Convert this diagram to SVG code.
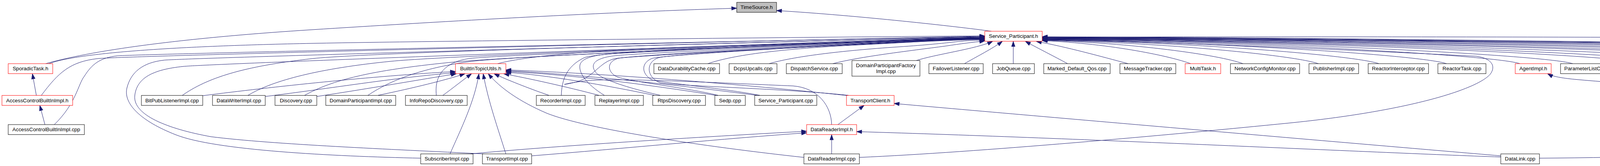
<svg xmlns="http://www.w3.org/2000/svg" width="6431" height="425" viewBox="0 0 6431 425">
<style>
.node rect{fill:#ffffff;stroke:#000000;stroke-width:1}
.node.red rect{stroke:#ff0000}
.node.gray rect{fill:#bfbfbf}
.node text{font-family:"Liberation Sans",Arial,Helvetica,sans-serif;font-size:13.33px;fill:#000000;text-anchor:middle}
.e{fill:none;stroke:#191970;stroke-width:1;marker-end:url(#ah)}
</style>
<defs>
<marker id="ah" viewBox="0 0 13 9" refX="13" refY="4.5" markerWidth="13" markerHeight="9" markerUnits="userSpaceOnUse" orient="auto" overflow="visible">
<path d="M0,0 L13,4.5 L0,9 Z" fill="#191970" stroke="#191970" stroke-width="1"/>
</marker>
</defs>
<rect x="0" y="0" width="6431" height="425" fill="#ffffff"/>
<g id="edges">
<path class="e" d="M117,163 C250,125 500,95 800,76 C1100,57 1500,33 1886,21"/>
<path class="e" d="M2538,80 C2450,68 2200,40 1988,27"/>
<path class="e" d="M93,244 L83,189"/>
<path class="e" d="M115,319 L102,270"/>
<path class="e" d="M125,163 C200,135 450,118 800,111 S2420,92 2521,92"/>
<path class="e" d="M106,244 C150,185 180,158 250,150 S2420,93 2521,93"/>
<path class="e" d="M139,319 C195,265 200,215 216,195 C235,165 255,148 300,143 S2420,94 2521,94"/>
<path class="e" d="M1077,405 C850,400 550,385 450,345 C360,310 315,265 325,225 C335,185 365,160 420,154 S2420,95 2521,95"/>
<path class="e" d="M1237,394 C1000,382 700,370 540,350 C430,330 340,295 345,245 C350,200 390,178 470,170 S2420,96 2521,96"/>
<path class="e" d="M467,244 C530,200 620,170 800,150 S2420,96 2521,96"/>
<path class="e" d="M635,244 C700,205 820,175 1000,157 S2420,97 2521,97"/>
<path class="e" d="M780,244 C850,205 950,180 1150,160 S2420,98 2521,98"/>
<path class="e" d="M942,244 C1000,205 1080,175 1200,158 S2420,99 2521,99"/>
<path class="e" d="M1117,244 C1112,195 1135,160 1200,150 S2420,98 2521,98"/>
<path class="e" d="M1274,163 C1330,148 1450,135 1600,128 S2420,97 2521,97"/>
<path class="e" d="M1437,244 C1438,205 1450,170 1495,148 S2420,97 2521,97"/>
<path class="e" d="M1547,244 C1500,215 1480,185 1485,165 C1490,150 1515,142 1560,138 S2420,98 2521,98"/>
<path class="e" d="M1690,244 C1620,228 1540,205 1525,185 C1510,165 1520,148 1580,142 S2420,99 2521,99"/>
<path class="e" d="M1838,244 C1760,225 1620,210 1580,197 C1555,185 1552,160 1580,150 S2420,99 2521,99"/>
<path class="e" d="M1945,244 C1850,226 1720,215 1670,205 C1642,190 1640,162 1668,150 S2420,100 2521,100"/>
<path class="e" d="M2172,244 C2000,226 1760,222 1690,212 C1655,198 1652,160 1685,148 S2420,100 2521,100"/>
<path class="e" d="M2129,319 C2128,272 2095,225 2030,220 C1880,214 1580,198 1500,207 C1440,214 1425,222 1475,210 C1520,198 1535,158 1575,150 S2420,101 2521,101"/>
<path class="e" d="M1812,163 C1880,140 2000,125 2200,115 S2420,101 2521,101"/>
<path class="e" d="M1969,163 C2030,145 2150,130 2300,120 S2450,103 2521,103"/>
<path class="e" d="M2132,163 C2200,145 2330,130 2420,118 C2460,112 2490,108 2521,105"/>
<path class="e" d="M2346,155 C2390,140 2500,125 2541,106"/>
<path class="e" d="M2469,163 C2500,145 2540,125 2566,106"/>
<path class="e" d="M2594,163 L2594,106"/>
<path class="e" d="M2733,163 C2700,145 2660,125 2625,106"/>
<path class="e" d="M2888,163 C2820,145 2730,120 2653,106"/>
<path class="e" d="M3048,163 C3000,145 2850,112 2668,104"/>
<path class="e" d="M3182,163 C3120,140 2900,110 2668,103"/>
<path class="e" d="M3375,163 C3315,142 2986,109 2668,103"/>
<path class="e" d="M3530,163 C3470,142 3056,108 2668,102"/>
<path class="e" d="M3703,163 C3643,142 3134,108 2668,102"/>
<path class="e" d="M3891,163 C3831,142 3218,107 2668,101"/>
<path class="e" d="M4026,163 C3966,142 3279,106 2668,100"/>
<path class="e" d="M4216,163 C4156,142 3365,106 2668,100"/>
<path class="e" d="M4335,163 C4275,142 3418,105 2668,99"/>
<path class="e" d="M4508,163 C4448,142 3496,105 2668,99"/>
<path class="e" d="M4689,163 C4629,142 3577,104 2668,98"/>
<path class="e" d="M4831,163 C4771,142 3641,104 2668,98"/>
<path class="e" d="M5023,163 C4963,142 3728,103 2668,97"/>
<path class="e" d="M5222,163 C5162,142 3817,103 2668,97"/>
<path class="e" d="M5444,163 C5384,142 3917,102 2668,96"/>
<path class="e" d="M5680,163 C5620,142 4023,102 2668,96"/>
<path class="e" d="M5864,163 C5804,142 4106,101 2668,95"/>
<path class="e" d="M6066,163 C6006,142 4197,101 2668,95"/>
<path class="e" d="M6265,163 C6205,142 4287,100 2668,94"/>
<path class="e" d="M2200,403 C2500,390 3000,345 3300,315 C3600,285 3780,230 3815,190 C3830,170 3820,150 3780,144 C3400,125 2900,104 2668,101"/>
<path class="e" d="M5208,255 C5600,250 6100,235 6330,210 C6395,200 6410,170 6395,155 C6375,142 6300,138 6200,135 C5200,115 3500,102 2668,99"/>
<path class="e" d="M3941,405 C4400,402 5200,370 5650,343 C6000,320 6300,260 6380,215 C6420,190 6430,165 6410,154 C6380,145 6300,140 6200,132 C5900,115 5300,102 4840,98 C4000,94 3000,93 2668,96"/>
<path class="e" d="M519,245 C700,222 950,195 1166,183"/>
<path class="e" d="M679,247 C850,226 1000,200 1166,186"/>
<path class="e" d="M811,247 C950,226 1080,203 1168,189"/>
<path class="e" d="M968,244 C1060,225 1140,205 1190,189"/>
<path class="e" d="M1134,244 C1160,225 1185,205 1207,189"/>
<path class="e" d="M1152,394 C1180,330 1215,260 1226,189"/>
<path class="e" d="M1295,394 C1275,330 1250,260 1237,189"/>
<path class="e" d="M2058,403 C1800,375 1500,330 1400,290 C1330,260 1280,225 1250,189"/>
<path class="e" d="M1405,244 C1350,225 1300,205 1265,189"/>
<path class="e" d="M1533,244 C1450,222 1350,200 1290,189"/>
<path class="e" d="M1675,244 C1550,218 1400,192 1295,185"/>
<path class="e" d="M1838,245 C1650,215 1450,190 1295,183"/>
<path class="e" d="M1945,245 C1700,213 1450,188 1295,181"/>
<path class="e" d="M2172,245 C1850,210 1500,186 1295,179"/>
<path class="e" d="M2145,319 L2212,270"/>
<path class="e" d="M2129,394 L2129,345"/>
<path class="e" d="M1205,394 C1400,375 1800,350 2065,336"/>
<path class="e" d="M1361,399 C1600,380 1850,355 2065,340"/>
<path class="e" d="M3842,402 C3500,390 2800,355 2193,337"/>
<path class="e" d="M3842,399 C3500,370 2800,310 2289,265"/>
<path class="e" d="M5101,254 C4900,252 4300,228 4030,203 C4000,200 3975,196 3962,189"/>
</g>
<g id="n_TimeSource_h" class="node gray"><rect x="1886" y="6" width="102" height="25.6"/><text x="1937" y="23.4">TimeSource.h</text></g>
<g id="n_Service_Participant_h" class="node red"><rect x="2521" y="80" width="147" height="25.6"/><text x="2594.5" y="97.4">Service_Participant.h</text></g>
<g id="n_SporadicTask_h" class="node red"><rect x="21" y="163" width="114" height="25.6"/><text x="78" y="180.4">SporadicTask.h</text></g>
<g id="n_BuiltInTopicUtils_h" class="node red"><rect x="1166" y="163" width="129" height="25.6"/><text x="1230.5" y="180.4">BuiltInTopicUtils.h</text></g>
<g id="n_DataDurabilityCache_cpp" class="node"><rect x="1674" y="163" width="168" height="25.6"/><text x="1758" y="180.4">DataDurabilityCache.cpp</text></g>
<g id="n_DcpsUpcalls_cpp" class="node"><rect x="1866.5" y="163" width="122.5" height="25.6"/><text x="1927.75" y="180.4">DcpsUpcalls.cpp</text></g>
<g id="n_DispatchService_cpp" class="node"><rect x="2013" y="163" width="143" height="25.6"/><text x="2084.5" y="180.4">DispatchService.cpp</text></g>
<g id="n_DomainParticipantFactoryImpl_cpp" class="node"><rect x="2181" y="155" width="174" height="40"/><text x="2268" y="171.5">DomainParticipantFactory</text><text x="2268" y="186.5">Impl.cpp</text></g>
<g id="n_FailoverListener_cpp" class="node"><rect x="2378" y="163" width="139" height="25.6"/><text x="2447.5" y="180.4">FailoverListener.cpp</text></g>
<g id="n_JobQueue_cpp" class="node"><rect x="2541" y="163" width="107" height="25.6"/><text x="2594.5" y="180.4">JobQueue.cpp</text></g>
<g id="n_Marked_Default_Qos_cpp" class="node"><rect x="2672" y="163" width="170" height="25.6"/><text x="2757" y="180.4">Marked_Default_Qos.cpp</text></g>
<g id="n_MessageTracker_cpp" class="node"><rect x="2867" y="163" width="143" height="25.6"/><text x="2938.5" y="180.4">MessageTracker.cpp</text></g>
<g id="n_MultiTask_h" class="node red"><rect x="3034" y="163" width="91" height="25.6"/><text x="3079.5" y="180.4">MultiTask.h</text></g>
<g id="n_NetworkConfigMonitor_cpp" class="node"><rect x="3150" y="163" width="177" height="25.6"/><text x="3238.5" y="180.4">NetworkConfigMonitor.cpp</text></g>
<g id="n_PublisherImpl_cpp" class="node"><rect x="3351" y="163" width="127" height="25.6"/><text x="3414.5" y="180.4">PublisherImpl.cpp</text></g>
<g id="n_ReactorInterceptor_cpp" class="node"><rect x="3502.5" y="163" width="154.5" height="25.6"/><text x="3579.75" y="180.4">ReactorInterceptor.cpp</text></g>
<g id="n_ReactorTask_cpp" class="node"><rect x="3681" y="163" width="123" height="25.6"/><text x="3742.5" y="180.4">ReactorTask.cpp</text></g>
<g id="n_AgentImpl_h" class="node red"><rect x="3879" y="163" width="92" height="25.6"/><text x="3925" y="180.4">AgentImpl.h</text></g>
<g id="n_ParameterListConverter_cpp" class="node"><rect x="3995" y="163" width="185" height="25.6"/><text x="4087.5" y="180.4">ParameterListConverter.cpp</text></g>
<g id="n_Spdp_cpp" class="node"><rect x="4205" y="163" width="78" height="25.6"/><text x="4244" y="180.4">Spdp.cpp</text></g>
<g id="n_SecurityRegistry_cpp" class="node"><rect x="4306" y="163" width="144" height="25.6"/><text x="4378" y="180.4">SecurityRegistry.cpp</text></g>
<g id="n_TopicDescriptionImpl_cpp" class="node"><rect x="4474" y="163" width="171" height="25.6"/><text x="4559.5" y="180.4">TopicDescriptionImpl.cpp</text></g>
<g id="n_TopicImpl_cpp" class="node"><rect x="4669" y="163" width="104" height="25.6"/><text x="4721" y="180.4">TopicImpl.cpp</text></g>
<g id="n_DirectPriorityMapper_cpp" class="node"><rect x="4797.5" y="163" width="167" height="25.6"/><text x="4881" y="180.4">DirectPriorityMapper.cpp</text></g>
<g id="n_PerConnectionSynch_cpp" class="node"><rect x="4989" y="163" width="171" height="25.6"/><text x="5074.5" y="180.4">PerConnectionSynch.cpp</text></g>
<g id="n_ScheduleOutputHandler_cpp" class="node"><rect x="5184.5" y="163" width="185.5" height="25.6"/><text x="5277.25" y="180.4">ScheduleOutputHandler.cpp</text></g>
<g id="n_ThreadPerConnectionSendTask_cpp" class="node"><rect x="5394" y="163" width="232" height="25.6"/><text x="5510" y="180.4">ThreadPerConnectionSendTask.cpp</text></g>
<g id="n_TransportRegistry_cpp" class="node"><rect x="5651" y="163" width="151" height="25.6"/><text x="5726.5" y="180.4">TransportRegistry.cpp</text></g>
<g id="n_TransportSendListener_cpp" class="node"><rect x="5826" y="163" width="179" height="25.6"/><text x="5915.5" y="180.4">TransportSendListener.cpp</text></g>
<g id="n_TransportSendStrategy_cpp" class="node"><rect x="6029" y="163" width="181" height="25.6"/><text x="6119.5" y="180.4">TransportSendStrategy.cpp</text></g>
<g id="n_QueueTaskBase_T_h" class="node red"><rect x="6235" y="163" width="146" height="25.6"/><text x="6308" y="180.4">QueueTaskBase_T.h</text></g>
<g id="n_AccessControlBuiltInImpl_h" class="node red"><rect x="5" y="244.3" width="181" height="25.6"/><text x="95.5" y="261.7">AccessControlBuiltInImpl.h</text></g>
<g id="n_BitPubListenerImpl_cpp" class="node"><rect x="362" y="244.3" width="157" height="25.6"/><text x="440.5" y="261.7">BitPubListenerImpl.cpp</text></g>
<g id="n_DataWriterImpl_cpp" class="node"><rect x="544" y="244.3" width="135" height="25.6"/><text x="611.5" y="261.7">DataWriterImpl.cpp</text></g>
<g id="n_Discovery_cpp" class="node"><rect x="704" y="244.3" width="107" height="25.6"/><text x="757.5" y="261.7">Discovery.cpp</text></g>
<g id="n_DomainParticipantImpl_cpp" class="node"><rect x="834" y="244.3" width="179" height="25.6"/><text x="923.5" y="261.7">DomainParticipantImpl.cpp</text></g>
<g id="n_InfoRepoDiscovery_cpp" class="node"><rect x="1038" y="244.3" width="158" height="25.6"/><text x="1117" y="261.7">InfoRepoDiscovery.cpp</text></g>
<g id="n_RecorderImpl_cpp" class="node"><rect x="1373" y="244.3" width="125" height="25.6"/><text x="1435.5" y="261.7">RecorderImpl.cpp</text></g>
<g id="n_ReplayerImpl_cpp" class="node"><rect x="1523" y="244.3" width="124" height="25.6"/><text x="1585" y="261.7">ReplayerImpl.cpp</text></g>
<g id="n_RtpsDiscovery_cpp" class="node"><rect x="1671" y="244.3" width="135" height="25.6"/><text x="1738.5" y="261.7">RtpsDiscovery.cpp</text></g>
<g id="n_Sedp_cpp" class="node"><rect x="1830" y="244.3" width="78" height="25.6"/><text x="1869" y="261.7">Sedp.cpp</text></g>
<g id="n_Service_Participant_cpp" class="node"><rect x="1932" y="244.3" width="159" height="25.6"/><text x="2011.5" y="261.7">Service_Participant.cpp</text></g>
<g id="n_TransportClient_h" class="node red"><rect x="2167" y="244.3" width="122" height="25.6"/><text x="2228" y="261.7">TransportClient.h</text></g>
<g id="n_AgentImpl_cpp" class="node"><rect x="5101" y="244.3" width="107" height="25.6"/><text x="5154.5" y="261.7">AgentImpl.cpp</text></g>
<g id="n_AccessControlBuiltInImpl_cpp" class="node"><rect x="21" y="319" width="195" height="25.6"/><text x="118.5" y="336.4">AccessControlBuiltInImpl.cpp</text></g>
<g id="n_DataReaderImpl_h" class="node red"><rect x="2065" y="319" width="128" height="25.6"/><text x="2129" y="336.4">DataReaderImpl.h</text></g>
<g id="n_SubscriberImpl_cpp" class="node"><rect x="1077" y="394" width="134" height="25.6"/><text x="1144" y="411.4">SubscriberImpl.cpp</text></g>
<g id="n_TransportImpl_cpp" class="node"><rect x="1235" y="394" width="126" height="25.6"/><text x="1298" y="411.4">TransportImpl.cpp</text></g>
<g id="n_DataReaderImpl_cpp" class="node"><rect x="2058" y="394" width="142" height="25.6"/><text x="2129" y="411.4">DataReaderImpl.cpp</text></g>
<g id="n_DataLink_cpp" class="node"><rect x="3842" y="394" width="99" height="25.6"/><text x="3891.5" y="411.4">DataLink.cpp</text></g>
</svg>
